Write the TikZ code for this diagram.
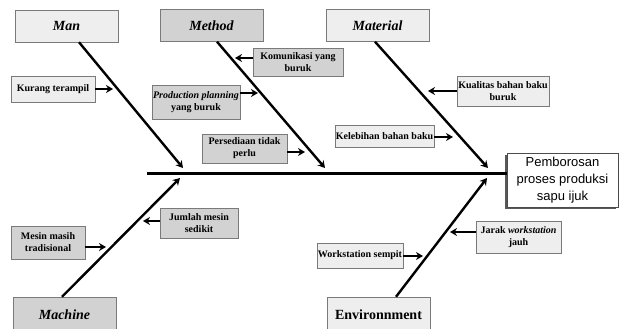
\documentclass[tikz,border=0pt]{standalone}
\usepackage{fontspec}
\setmainfont{Liberation Serif}
\newfontfamily\effectfont{Liberation Sans}
\usetikzlibrary{arrows.meta,shadows}
\definecolor{boxlight}{HTML}{EEEEEE}
\definecolor{boxdark}{HTML}{D2D2D2}
\definecolor{boxline}{HTML}{7A7A7A}
\tikzset{
    >={Stealth[length=7pt,width=8pt]},
    category/.style={rectangle, draw=boxline, minimum width=103pt, minimum height=32pt, inner sep=1pt, font=\fontsize{14}{16}\selectfont\bfseries\itshape},
    cause/.style={rectangle, draw=boxline, align=center, inner sep=1pt, font=\fontsize{10}{12}\selectfont\bfseries},
    light/.style={fill=boxlight},
    dark/.style={fill=boxdark},
    effectbox/.style={rectangle, draw=black!70, fill=white, align=center, minimum width=111pt, minimum height=54pt, inner sep=1pt, font=\effectfont\fontsize{13}{17}\selectfont, drop shadow={shadow xshift=-1.8pt, shadow yshift=-1.8pt, fill=black!65, opacity=1}},
    spine/.style={line width=3pt},
    bone/.style={->, line width=2.4pt},
    push/.style={->, line width=2.6pt}
}

\begin{document}
\begin{tikzpicture}[x=1pt, y=-1pt]
    \useasboundingbox (0,0) rectangle (619,329);
    % head and spine
    \node[effectbox] (effect) at (562.5,180) {Pemborosan\\proses produksi\\sapu ijuk};
    \coordinate (tail) at (147,173);
    \draw[spine] (tail) -- (effect.west |- tail);

    % main categories
    \node[category, light] (man) at (66.5,26) {Man};
    \node[category, dark] (method) at (211.5,25.5) {Method};
    \node[category, light] (material) at (377.5,25.5) {Material};
    \node[category, dark, minimum height=36pt] (machine) at (64.5,315) {Machine};
    \node[category, light, minimum height=36pt, font=\fontsize{14}{16}\selectfont\bfseries] (environment) at (378.5,315) {Environnment};

    \coordinate (m1) at (183,168);
    \coordinate (m2) at (325,168);
    \coordinate (m3) at (488,168);
    \coordinate (m4) at (180,178);
    \coordinate (m5) at (487,178);
    \draw[bone] ([xshift=12.5pt]man.south) -- (m1);
    \draw[bone] ([xshift=5.5pt]method.south) -- (m2);
    \draw[bone] ([xshift=-2.5pt]material.south) -- (m3);
    \draw[bone] ([xshift=-2.5pt]machine.north) -- (m4);
    \draw[bone] ([xshift=17.5pt]environment.north) -- (m5);

    % causes
    \node[cause, light, minimum width=84pt, minimum height=26pt] (kurang) at (53,89) {Kurang terampil};
    \node[cause, dark, minimum width=90pt, minimum height=28pt] (komunikasi) at (298,62) {Komunikasi yang\\buruk};
    \node[cause, dark, minimum width=80pt, minimum height=34pt] (planning) at (196,102) {\textit{Production planning}\\yang buruk};
    \node[cause, dark, minimum width=85pt, minimum height=29pt] (persediaan) at (244.5,148.5) {Persediaan tidak\\perlu};
    \node[cause, light, minimum width=92pt, minimum height=30pt] (kualitas) at (503,91) {Kualitas bahan baku\\buruk};
    \node[cause, light, minimum width=99pt, minimum height=22pt] (kelebihan) at (384.5,136) {Kelebihan bahan baku};
    \node[cause, dark, minimum width=78pt, minimum height=30pt] (jumlah) at (199,223) {Jumlah mesin\\sedikit};
    \node[cause, dark, minimum width=74pt, minimum height=33pt] (mesin) at (48,242.5) {Mesin masih\\tradisional};
    \node[cause, light, minimum width=85pt, minimum height=32pt] (jarak) at (518.5,237) {Jarak \textit{workstation}\\jauh};
    \node[cause, light, minimum width=86pt, minimum height=25pt] (sempit) at (360,255.5) {Workstation sempit};

    \coordinate (k1) at (113,89);
    \coordinate (k2) at (235,58);
    \coordinate (k3) at (258,93);
    \coordinate (k4) at (305,152);
    \coordinate (k5) at (428,91);
    \coordinate (k6) at (453,137);
    \coordinate (k7) at (143,221);
    \coordinate (k8) at (106,247);
    \coordinate (k9) at (450,232);
    \coordinate (k10) at (423,256);
    \draw[push] (kurang.east |- k1) -- (k1);
    \draw[push] (komunikasi.west |- k2) -- (k2);
    \draw[push] (planning.east |- k3) -- (k3);
    \draw[push] (persediaan.east |- k4) -- (k4);
    \draw[push] (kualitas.west |- k5) -- (k5);
    \draw[push] (kelebihan.east |- k6) -- (k6);
    \draw[push] (jumlah.west |- k7) -- (k7);
    \draw[push] (mesin.east |- k8) -- (k8);
    \draw[push] (jarak.west |- k9) -- (k9);
    \draw[push] (sempit.east |- k10) -- (k10);
\end{tikzpicture}
\end{document}
